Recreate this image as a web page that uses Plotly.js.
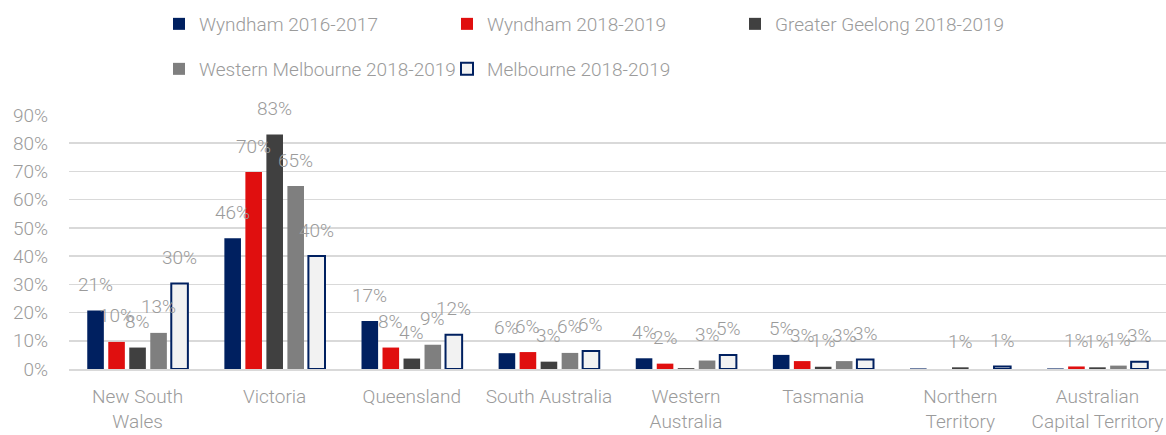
<!DOCTYPE html>
<html>
<head>
<meta charset="utf-8">
<script src="https://cdn.plot.ly/plotly-3.0.1.min.js"></script>
<style>html,body{margin:0;padding:0;background:#fff;}#chart{width:1166px;height:435px;}</style>
</head>
<body>
<div id="chart"></div>
<script>
// ---- data ----
const categories = ['New South<br>Wales', 'Victoria', 'Queensland', 'South Australia',
  'Western<br>Australia', 'Tasmania', 'Northern<br>Territory', 'Australian<br>Capital Territory'];
const seriesNames = ['Wyndham 2016-2017', 'Wyndham 2018-2019', 'Greater Geelong 2018-2019',
  'Western Melbourne 2018-2019', 'Melbourne 2018-2019'];
const wyndham1617 = [0.207, 0.463, 0.170, 0.056, 0.038, 0.050, 0.002, 0.002];
const wyndham1819 = [0.096, 0.698, 0.076, 0.060, 0.019, 0.028, null, 0.009];
const geelong1819 = [0.076, 0.831, 0.037, 0.026, 0.003, 0.008, 0.006, 0.006];
const westMelb1819 = [0.128, 0.648, 0.086, 0.057, 0.030, 0.028, null, 0.012];
const melbourne1819 = [0.303, 0.400, 0.121, 0.064, 0.050, 0.034, 0.009, 0.026];
const yTickVals = [0, 0.1, 0.2, 0.3, 0.4, 0.5, 0.6, 0.7, 0.8, 0.9];

// ---- styles ----
const values = [wyndham1617, wyndham1819, geelong1819, westMelb1819, melbourne1819];
const fills = ['#002060', '#E00F0F', '#404040', '#7F7F7F', '#F2F2F2'];
const lines = [null, null, null, null, '#002060'];
const legends = ['legend', 'legend', 'legend', 'legend2', 'legend2'];
const textColor = '#9b9b9b';
const fontFam = 'Roboto, "Open Sans", sans-serif';
const W = 1166, H = 435;
const margin = {l: 69, r: 0, t: 115, b: 66};
const bargap = 0.234, bargroupgap = 0.21;

const traces = values.map((v, i) => ({
  type: 'bar',
  name: seriesNames[i],
  x: categories,
  y: v,
  legend: legends[i],
  marker: {color: fills[i], line: {color: lines[i] || fills[i], width: lines[i] ? 2 : 0}},
  hoverinfo: 'skip'
}));

// data labels placed above each bar
const plotW = W - margin.l - margin.r;
const slot = plotW / categories.length * (1 - bargap) / values.length;
const annotations = [];
values.forEach((v, i) => {
  v.forEach((val, j) => {
    if (val === null || val < 0.005) return;
    annotations.push({
      x: categories[j], y: val, xref: 'x', yref: 'y',
      text: Math.round(val * 100) + '%',
      showarrow: false,
      xshift: (i - (values.length - 1) / 2) * slot,
      yshift: 26,
      font: {family: fontFam, size: 19, color: textColor, weight: 300}
    });
  });
});

const legendCommon = {
  orientation: 'h', xref: 'container', yref: 'container',
  xanchor: 'left', yanchor: 'top',
  entrywidth: 243, entrywidthmode: 'pixels',
  bgcolor: 'rgba(0,0,0,0)', borderwidth: 0,
  font: {family: fontFam, size: 19, color: textColor, weight: 300},
  traceorder: 'normal'
};

const layout = {
  width: W, height: H,
  margin: margin,
  paper_bgcolor: '#ffffff', plot_bgcolor: '#ffffff',
  barmode: 'group', bargap: bargap, bargroupgap: bargroupgap,
  font: {family: fontFam, size: 19, color: textColor, weight: 300},
  showlegend: true,
  legend: Object.assign({}, legendCommon, {x: 159 / W, y: 1 - 5 / H}),
  legend2: Object.assign({}, legendCommon, {x: 159 / W, y: 1 - 50 / H}),
  xaxis: {
    type: 'category', showgrid: false, zeroline: false,
    showline: true, linecolor: '#d9d9d9', linewidth: 1.5,
    ticks: '', ticklabelstandoff: 10,
    tickfont: {family: fontFam, size: 19, color: textColor, weight: 300}
  },
  yaxis: {
    range: [0, 0.9], tickvals: yTickVals, tickformat: '.0%',
    showgrid: true, gridcolor: '#d9d9d9', gridwidth: 1.5,
    zeroline: false, showline: false, ticks: '', ticklabelstandoff: 20,
    tickfont: {family: fontFam, size: 19, color: textColor, weight: 300}
  },
  annotations: annotations
};

Plotly.newPlot('chart', traces, layout, {displayModeBar: false, staticPlot: true});
</script>
</body>
</html>
